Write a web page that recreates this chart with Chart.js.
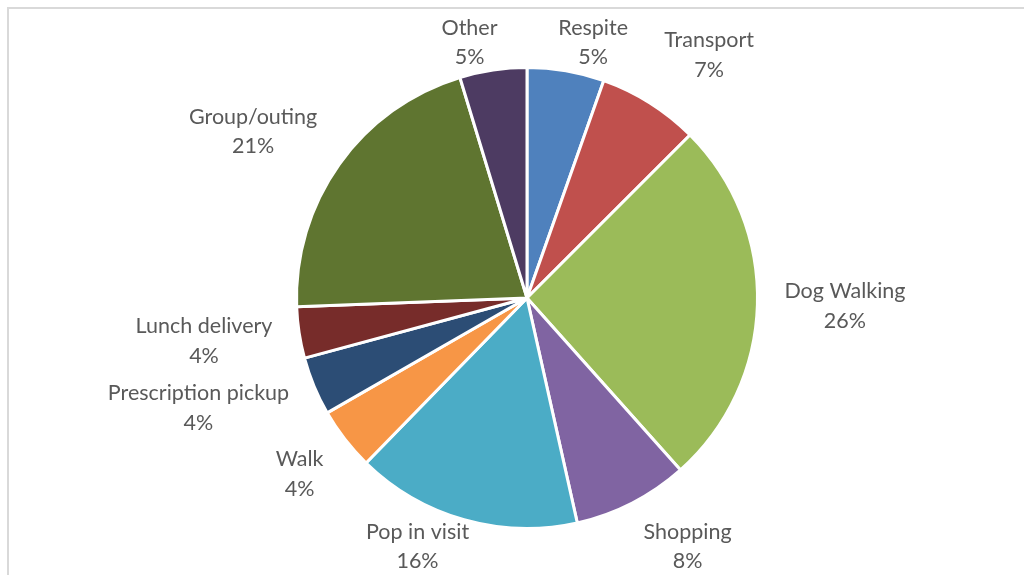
<!DOCTYPE html>
<html>
<head>
<meta charset="utf-8">
<script src="https://cdn.jsdelivr.net/npm/chart.js@4/dist/chart.umd.min.js"></script>
<style>
  html, body { margin: 0; padding: 0; background: #fff; }
  #wrap { position: relative; width: 1024px; height: 575px; }
</style>
</head>
<body>
<div id="wrap"><canvas id="chart" width="1024" height="575"></canvas></div>
<script>
// Share of tasks by type, clockwise from 12 o'clock
const categories = ["Respite", "Transport", "Dog Walking", "Shopping", "Pop in visit",
  "Walk", "Prescription pickup", "Lunch delivery", "Group/outing", "Other"]
const shares = [5.4, 7.1, 25.9, 8.1, 15.8, 4.4, 4.1, 3.6, 20.9, 4.7]
const sliceColors = ["#4F81BD", "#C0504D", "#9BBB59", "#8064A2", "#4BACC6",
  "#F79646", "#2C4D75", "#772C2A", "#5F7530", "#4D3B62"]

const FONT = "21.5px Lato, 'Open Sans', sans-serif"
const LINE_H = 29.5

// Frame lines: Excel chart border, only top and left edges visible in the crop
const framePlugin = {
  id: "frame",
  beforeDraw(chart) {
    const {ctx, width, height} = chart
    ctx.save()
    ctx.strokeStyle = "#d9d9d9"
    ctx.lineWidth = 2
    ctx.beginPath()
    ctx.moveTo(8, height)
    ctx.lineTo(8, 8)
    ctx.lineTo(width, 8)
    ctx.stroke()
    ctx.restore()
  }
}

const lean = (t, k) => Math.max(-1, Math.min(1, t * k))

// Outside-end labels: "Name" over "NN%", pushed out along the slice middle.
// When a label hits the top/bottom edge it slides sideways a little.
const outsideLabels = {
  id: "outsideLabels",
  afterDatasetsDraw(chart) {
    const {ctx, height} = chart
    const meta = chart.getDatasetMeta(0)
    const total = shares.reduce((a, b) => a + b, 0)
    ctx.save()
    ctx.font = FONT
    ctx.fillStyle = "#595959"
    ctx.textAlign = "center"
    ctx.textBaseline = "middle"
    meta.data.forEach((arc, i) => {
      const {x, y, startAngle, endAngle, outerRadius} = arc.getProps(["x", "y", "startAngle", "endAngle", "outerRadius"], true)
      const mid = (startAngle + endAngle) / 2
      const ux = Math.cos(mid)
      const uy = Math.sin(mid)
      const pct = Math.round(shares[i] / total * 100) + "%"
      const w = Math.max(ctx.measureText(categories[i]).width, ctx.measureText(pct).width)
      const h = LINE_H * 2
      const dist = outerRadius + 27
      let cx = x + ux * dist + lean(ux, 2) * w / 2
      let cy = y + uy * dist + lean(uy, 1) * h / 2
      const clamped = Math.max(13 + h / 2, Math.min(height + 1 - h / 2, cy))
      cx += Math.sign(ux) * Math.abs(clamped - cy) * 0.4
      cy = clamped
      ctx.fillText(categories[i], cx, cy - LINE_H / 2)
      ctx.fillText(pct, cx, cy + LINE_H / 2)
    })
    ctx.restore()
  }
}

new Chart(document.getElementById("chart"), {
  type: "pie",
  data: {
    labels: categories,
    datasets: [{
      data: shares,
      backgroundColor: sliceColors,
      borderColor: "#ffffff",
      borderWidth: 3
    }]
  },
  options: {
    responsive: false,
    animation: false,
    layout: {padding: {top: 66, bottom: 45, left: 30, right: 0}},
    plugins: {
      legend: {display: false},
      tooltip: {enabled: false}
    }
  },
  plugins: [framePlugin, outsideLabels]
})
</script>
</body>
</html>
